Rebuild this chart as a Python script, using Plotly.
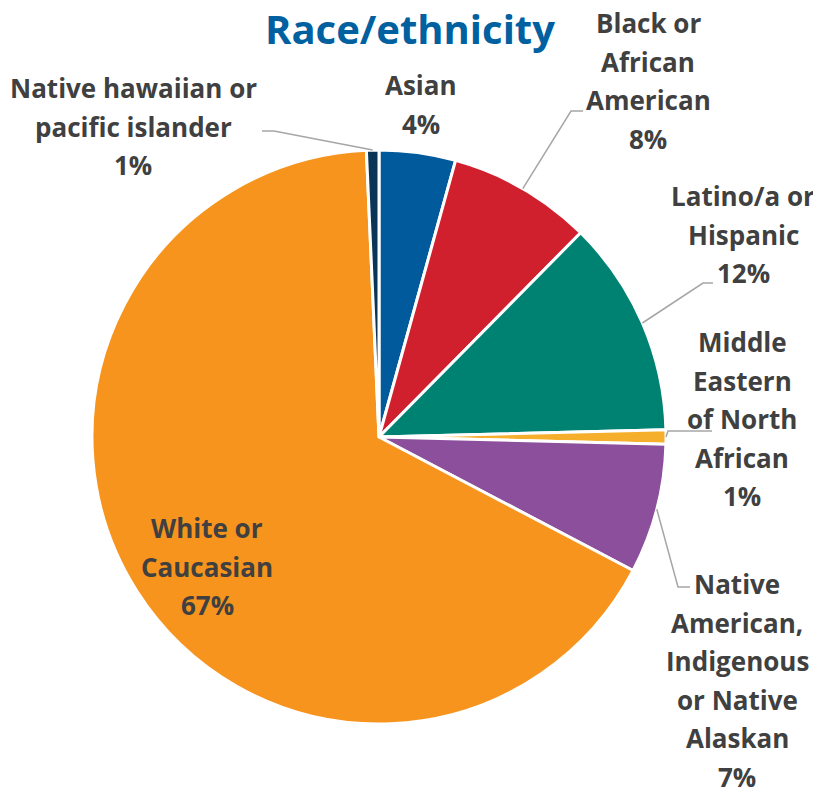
import math
import plotly.graph_objects as go

# ---- data ----
categories = ["Asian", "Black or African American", "Latino/a or Hispanic",
              "Middle Eastern of North African",
              "Native American, Indigenous or Native Alaskan",
              "White or Caucasian", "Native hawaiian or pacific islander"]
values = [4.3, 8.1, 12.2, 0.8, 7.3, 66.6, 0.7]
label_lines = [["Asian"], ["Black or", "African", "American"], ["Latino/a or", "Hispanic"],
               ["Middle", "Eastern", "of North", "African"],
               ["Native", "American,", "Indigenous", "or Native", "Alaskan"],
               ["White or", "Caucasian"], ["Native hawaiian or", "pacific islander"]]
colors = ["#005A9C", "#D0202E", "#008272", "#F6AE2D", "#8B4F9C", "#F7941D", "#0B3556"]

OFF = 8  # page body margin
W, H = 821 - OFF, 789 - OFF
CX, CY, R = 379 - OFF, 437 - OFF, 287

# label block layout (first-line centre in page pixels) and leader elbows
label_pos = [(421, 85), (648, 23), (743, 196), (742, 342), (737, 584), (207, 528), (133, 88)]
leader = [None, (571, 111), (703, 283), (668, 431), (678, 587), None, (274, 131)]
leader_end = [None, (583, 111), (713, 283), (712, 431), (690, 587), None, (262, 131)]
LINE = 38.5
FONT = "Open Sans"

fig = go.Figure()
fig.add_trace(go.Pie(
    labels=categories, values=values, sort=False, direction="clockwise", rotation=0,
    marker=dict(colors=colors, line=dict(color="white", width=3)),
    textinfo="none", hoverinfo="label+percent", showlegend=False,
    domain=dict(x=[(CX - R) / W, (CX + R) / W], y=[1 - (CY + R) / H, 1 - (CY - R) / H]),
))

total = sum(values)
cum = 0.0
annotations = []
shapes = []
for i, v in enumerate(values):
    mid = (cum + v / 2) / total * 2 * math.pi
    cum += v
    lines = label_lines[i] + [f"{round(v / total * 100)}%"]
    lx, ly = label_pos[i]
    for k, t in enumerate(lines):
        annotations.append(dict(x=lx - OFF, y=ly - OFF + k * LINE, xref="x", yref="y",
                                text=f"<b>{t}</b>",
                                showarrow=False, xanchor="center", yanchor="middle",
                                font=dict(family=FONT, size=26, color="#404040")))
    if leader[i] is not None:
        px = CX + R * math.sin(mid)
        py = CY - R * math.cos(mid)
        ex, ey = leader[i]
        fx, fy = leader_end[i]
        shapes.append(dict(type="path", xref="x", yref="y",
                           path=f"M {px:.1f} {py:.1f} L {ex - OFF} {ey - OFF} L {fx - OFF} {fy - OFF}",
                           line=dict(color="#A6A6A6", width=1.5)))

annotations.append(dict(x=410 - OFF, y=28 - OFF, xref="x", yref="y", text="<b>Race/ethnicity</b>",
                        showarrow=False, xanchor="center", yanchor="middle",
                        font=dict(family=FONT, size=40, color="#0060A0")))

fig.update_layout(
    width=W, height=H, margin=dict(l=0, r=0, t=0, b=0),
    paper_bgcolor="white", plot_bgcolor="rgba(0,0,0,0)",
    xaxis=dict(range=[0, W], visible=False, fixedrange=True),
    yaxis=dict(range=[H, 0], visible=False, fixedrange=True),
    annotations=annotations, shapes=shapes,
)
fig.write_html("out.html")
